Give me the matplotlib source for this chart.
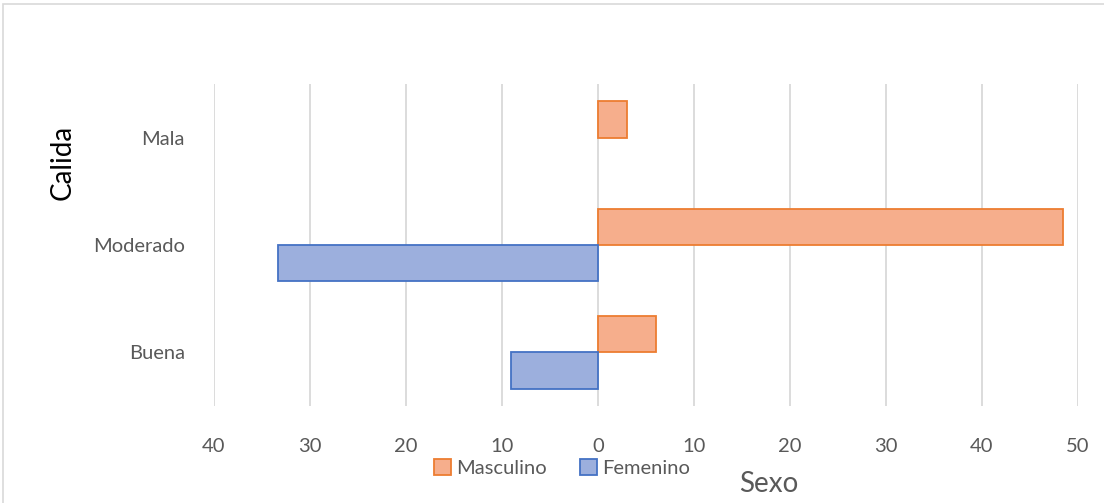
import matplotlib.pyplot as plt
import matplotlib.patches as mpatches
import numpy as np

plt.rcParams["font.family"] = ["Lato", "DejaVu Sans"]

categories = ["Buena", "Moderado", "Mala"]
masculino = [6.06, 48.48, 3.03]
femenino = [9.09, 33.33, np.nan]
x_ticks = [-40, -30, -20, -10, 0, 10, 20, 30, 40, 50]

orange_face, orange_edge = "#f6ae8c", "#ed7d31"
blue_face, blue_edge = "#9cafdd", "#4472c4"
gray_text = "#595959"

fig = plt.figure(figsize=(11.04, 5.03), dpi=100)
ax = fig.add_axes([214 / 1104, 1 - 406 / 503, (1078 - 214) / 1104, (406 - 84) / 503])

y = np.arange(len(categories))
h = 0.34
ax.barh(y + h / 2, masculino, height=h, color=orange_face, edgecolor=orange_edge,
        linewidth=1.3, label="Masculino", zorder=3)
fem_vals = [-v for v in femenino]
ax.barh(y - h / 2, fem_vals, height=h, color=blue_face, edgecolor=blue_edge,
        linewidth=1.3, label="Femenino", zorder=3)

ax.set_xlim(-40, 50)
ax.set_ylim(-0.5, 2.5)
ax.set_xticks(x_ticks)
ax.set_xticklabels([str(abs(t)) for t in x_ticks])
ax.set_yticks(y)
ax.set_yticklabels(categories)
ax.tick_params(axis="both", length=0, labelsize=14.5, colors=gray_text)
ax.tick_params(axis="x", pad=23)
ax.tick_params(axis="y", pad=21)
ax.grid(True, axis="x", color="#d9d9d9", linewidth=1.3, zorder=0)
for s in ax.spines.values():
    s.set_visible(False)

fig.text(63 / 1104, 1 - 162 / 503, "Calida", rotation=90, ha="center", va="center",
         fontsize=20, color="black")
fig.text(769 / 1104, 1 - 484 / 503, "Sexo", ha="center", va="center",
         fontsize=20, color=gray_text)

handles = [mpatches.Patch(facecolor=orange_face, edgecolor=orange_edge, linewidth=1.3),
           mpatches.Patch(facecolor=blue_face, edgecolor=blue_edge, linewidth=1.3)]
fig.legend(handles, ["Masculino", "Femenino"], loc="center", ncol=2,
           bbox_to_anchor=(562 / 1104, 1 - 468 / 503), frameon=False,
           fontsize=14.5, labelcolor=gray_text, handlelength=0.8, handleheight=0.8,
           handletextpad=0.25, columnspacing=1.7, borderpad=0.0)

fig.patches.append(mpatches.Rectangle((3 / 1104, -0.1), 1.2, 1 - 4 / 503 + 0.1,
                                      transform=fig.transFigure, fill=False,
                                      edgecolor="#d9d9d9", linewidth=1.2))

fig.savefig("out.png", dpi=100)
